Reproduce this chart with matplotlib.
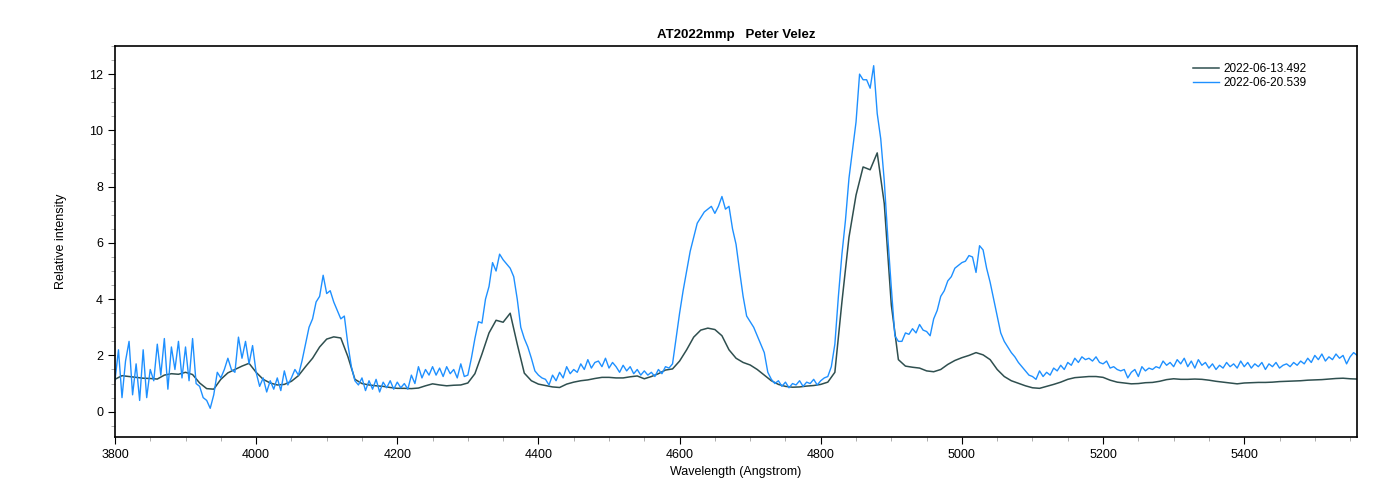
import numpy as np
import matplotlib
matplotlib.use("Agg")
import matplotlib.pyplot as plt
from matplotlib.ticker import MultipleLocator

plt.rcParams['font.family'] = ['Liberation Sans', 'DejaVu Sans']

# wavelength grids (Angstrom)
wl_june13 = np.arange(3800, 5561, 10)
wl_june20 = np.arange(3800, 5561, 5)

# 2022-06-13.492, one value every 10 A
flux_june13 = [
    1.15, 1.28, 1.25, 1.22, 1.19, 1.18, 1.16, 1.30, 1.35, 1.33,
    1.40, 1.32, 1.02, 0.82, 0.80, 1.15, 1.38, 1.50, 1.62, 1.72,
    1.40, 1.15, 1.02, 0.95, 0.97, 1.08, 1.28, 1.60, 1.90, 2.30,
    2.58, 2.66, 2.62, 1.96, 1.15, 1.00, 0.95, 0.92, 0.90, 0.86,
    0.83, 0.83, 0.82, 0.84, 0.92, 0.99, 0.95, 0.92, 0.94, 0.95,
    1.02, 1.35, 2.05, 2.80, 3.25, 3.18, 3.50, 2.40, 1.37, 1.10,
    0.98, 0.93, 0.88, 0.86, 0.98, 1.05, 1.10, 1.13, 1.18, 1.22,
    1.22, 1.20, 1.20, 1.24, 1.27, 1.17, 1.25, 1.35, 1.48, 1.52,
    1.80, 2.20, 2.65, 2.90, 2.97, 2.92, 2.70, 2.20, 1.90, 1.75,
    1.66, 1.50, 1.30, 1.10, 0.97, 0.90, 0.87, 0.88, 0.91, 0.93,
    0.97, 1.05, 1.40, 3.90, 6.20, 7.70, 8.70, 8.60, 9.20, 7.40,
    3.79, 1.85, 1.62, 1.58, 1.55, 1.45, 1.42, 1.50, 1.68, 1.82,
    1.92, 2.00, 2.10, 2.02, 1.85, 1.50, 1.25, 1.10, 1.01, 0.92,
    0.85, 0.83, 0.90, 0.97, 1.05, 1.15, 1.21, 1.23, 1.25, 1.25,
    1.22, 1.12, 1.05, 1.02, 0.99, 1.00, 1.03, 1.04, 1.08, 1.14,
    1.17, 1.15, 1.15, 1.16, 1.15, 1.12, 1.08, 1.05, 1.02, 0.99,
    1.02, 1.03, 1.04, 1.04, 1.05, 1.07, 1.08, 1.09, 1.10, 1.12,
    1.13, 1.14, 1.16, 1.18, 1.19, 1.17, 1.16,
]

# 2022-06-20.539, one value every 5 A
flux_june20 = [
    1.1, 2.2, 0.5, 1.8, 2.5, 0.6, 1.7, 0.4, 2.2, 0.5,
    1.5, 1.1, 2.4, 1.3, 2.6, 0.8, 2.3, 1.5, 2.5, 1.2,
    2.3, 1.1, 2.6, 1.0, 0.9, 0.5, 0.4, 0.12, 0.6, 1.4,
    1.2, 1.5, 1.9, 1.5, 1.4, 2.65, 1.9, 2.5, 1.7, 2.35,
    1.4, 0.9, 1.2, 0.7, 1.1, 0.8, 1.2, 0.75, 1.45, 0.95,
    1.2, 1.5, 1.3, 1.8, 2.4, 3.0, 3.3, 3.9, 4.1, 4.85,
    4.2, 4.3, 3.9, 3.6, 3.3, 3.4, 2.4, 1.6, 1.1, 0.95,
    1.2, 0.75, 1.1, 0.8, 1.15, 0.7, 1.05, 0.85, 1.1, 0.8,
    1.05, 0.85, 1.0, 0.8, 1.3, 1.0, 1.6, 1.2, 1.5, 1.3,
    1.6, 1.3, 1.55, 1.25, 1.6, 1.35, 1.5, 1.2, 1.7, 1.25,
    1.3, 1.9, 2.6, 3.2, 3.15, 4.0, 4.45, 5.3, 5.0, 5.6,
    5.4, 5.25, 5.1, 4.8, 4.0, 3.0, 2.6, 2.3, 1.9, 1.45,
    1.3, 1.2, 1.15, 0.95, 1.3, 1.1, 1.4, 1.2, 1.6, 1.35,
    1.5, 1.4, 1.7, 1.5, 1.85, 1.55, 1.75, 1.8, 1.6, 1.9,
    1.55, 1.75, 1.6, 1.4, 1.65, 1.45, 1.6, 1.35, 1.5, 1.3,
    1.45, 1.3, 1.4, 1.25, 1.5, 1.35, 1.6, 1.55, 1.7, 2.6,
    3.5, 4.3, 5.0, 5.7, 6.2, 6.7, 6.9, 7.1, 7.2, 7.3,
    7.05, 7.3, 7.65, 7.2, 7.3, 6.5, 5.95, 5.0, 4.1, 3.4,
    3.2, 3.0, 2.7, 2.4, 2.1, 1.4, 1.15, 1.0, 1.1, 0.9,
    1.05, 0.85, 1.0, 0.95, 1.1, 0.9, 1.05, 1.0, 1.15, 0.95,
    1.1, 1.2, 1.25, 1.6, 2.4, 4.1, 5.6, 6.8, 8.3, 9.3,
    10.3, 12.0, 11.8, 11.8, 11.5, 12.3, 10.6, 9.7, 8.2, 6.2,
    4.4, 2.7, 2.5, 2.5, 2.8, 2.75, 2.95, 2.8, 3.1, 2.9,
    2.85, 2.7, 3.3, 3.6, 4.1, 4.3, 4.65, 4.8, 5.1, 5.2,
    5.3, 5.35, 5.55, 5.5, 4.95, 5.9, 5.75, 5.1, 4.6, 4.0,
    3.4, 2.8, 2.5, 2.3, 2.1, 1.95, 1.75, 1.6, 1.45, 1.3,
    1.25, 1.15, 1.45, 1.25, 1.4, 1.3, 1.55, 1.45, 1.65, 1.5,
    1.75, 1.65, 1.9, 1.75, 1.95, 1.85, 1.9, 1.8, 1.95, 1.75,
    1.7, 1.8, 1.55, 1.6, 1.5, 1.45, 1.5, 1.2, 1.4, 1.5,
    1.25, 1.6, 1.45, 1.55, 1.5, 1.6, 1.55, 1.8, 1.65, 1.75,
    1.6, 1.85, 1.7, 1.9, 1.6, 1.8, 1.55, 1.85, 1.65, 1.75,
    1.55, 1.7, 1.5, 1.65, 1.55, 1.75, 1.6, 1.7, 1.55, 1.8,
    1.6, 1.75, 1.55, 1.7, 1.6, 1.75, 1.5, 1.7, 1.6, 1.75,
    1.55, 1.65, 1.7, 1.6, 1.75, 1.65, 1.8, 1.7, 1.9, 1.75,
    2.0, 1.85, 2.05, 1.8, 1.95, 1.85, 2.05, 1.9, 2.0, 1.7,
    1.95, 2.1, 2.0,
]

fig = plt.figure(figsize=(14, 5), dpi=100)
ax = fig.add_axes([0.0821, 0.126, 0.8873, 0.782])

ax.plot(wl_june13, flux_june13, color='#2f4f4f', lw=1.1, label='2022-06-13.492')
ax.plot(wl_june20, flux_june20, color='#1e90ff', lw=1.0, label='2022-06-20.539')

ax.set_xlim(3800, 5560)
ax.set_ylim(-0.9, 13.0)
ax.xaxis.set_major_locator(MultipleLocator(200))
ax.xaxis.set_minor_locator(MultipleLocator(50))
ax.yaxis.set_major_locator(MultipleLocator(2))
ax.yaxis.set_minor_locator(MultipleLocator(0.5))
ax.tick_params(which='both', direction='out', top=False, right=False, labelsize=9)
ax.tick_params(which='major', length=5, color='black')
ax.tick_params(which='minor', length=3, color='#a0a0a0')
for s in ax.spines.values():
    s.set_linewidth(1.2)

ax.set_title('AT2022mmp   Peter Velez', fontsize=9.5, fontweight='bold', pad=6)
ax.set_xlabel('Wavelength (Angstrom)', fontsize=9, labelpad=4)
ax.set_ylabel('Relative intensity', fontsize=9, labelpad=16)

ax.legend(loc='upper left', bbox_to_anchor=(0.866, 0.962), frameon=False,
          fontsize=8.5, handlelength=2.2, handletextpad=0.4, labelspacing=0.15,
          borderaxespad=0, borderpad=0.2)

fig.savefig('out.png', dpi=100)
